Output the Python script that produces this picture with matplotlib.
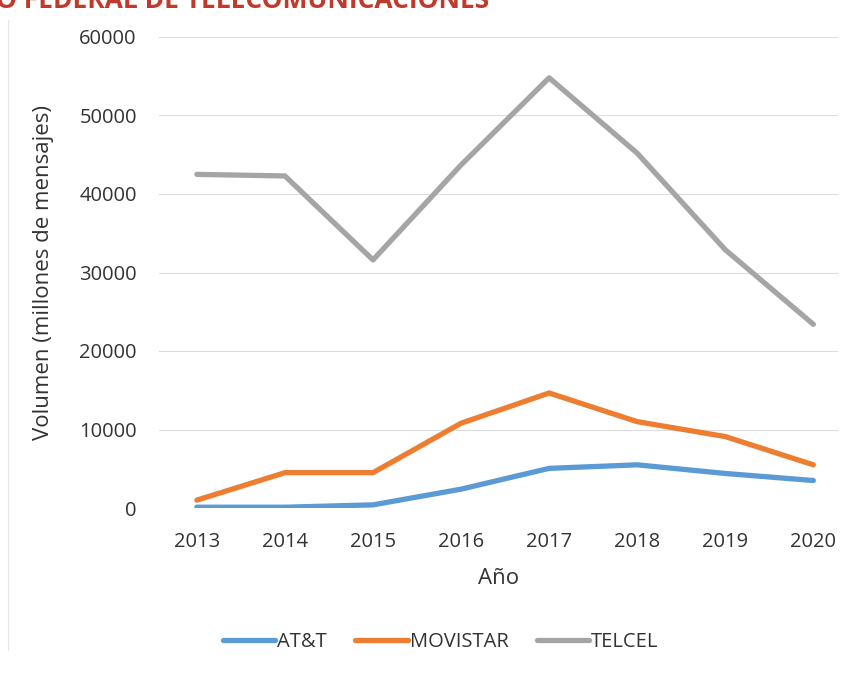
import matplotlib
matplotlib.use("Agg")
import matplotlib.pyplot as plt
from matplotlib.lines import Line2D

years = ["2013", "2014", "2015", "2016", "2017", "2018", "2019", "2020"]
att = [100, 100, 400, 2400, 5050, 5500, 4400, 3500]
movistar = [1000, 4500, 4500, 10800, 14650, 11000, 9100, 5500]
telcel = [42500, 42300, 31600, 43700, 54800, 45200, 32900, 23400]
yticks = [0, 10000, 20000, 30000, 40000, 50000, 60000]

plt.rcParams['font.family'] = ['Open Sans', 'DejaVu Sans']

fig = plt.figure(figsize=(8.54, 6.77), dpi=100)
ax = fig.add_axes([159/854, 1-508/677, (838-159)/854, (508-37)/677])

x = list(range(len(years)))
ax.plot(x, att, color='#5B9BD5', lw=3.8, label='AT&T', solid_capstyle='round', zorder=3)
ax.plot(x, movistar, color='#ED7D31', lw=3.8, label='MOVISTAR', solid_capstyle='round', zorder=3)
ax.plot(x, telcel, color='#A5A5A5', lw=3.8, label='TELCEL', solid_capstyle='round', zorder=3)

ax.set_xlim(-0.43, 7.28)
ax.set_ylim(0, 60000)
ax.set_yticks(yticks)
ax.set_yticklabels([str(v) for v in yticks], fontsize=14.5, color='#333333')
ax.set_xticks(x)
ax.set_xticklabels(years, fontsize=14.5, color='#333333')
ax.grid(axis='y', color='#DDDDDD', lw=0.8)
ax.set_axisbelow(True)
for s in ax.spines.values():
    s.set_visible(False)
ax.tick_params(axis='x', length=0, pad=17)
ax.tick_params(axis='y', length=0, pad=16)

ax.set_ylabel('Volumen (millones de mensajes)', fontsize=16, color='#333333', labelpad=18)
ax.set_xlabel('Año', fontsize=16, color='#333333', labelpad=12)

ax.legend(loc='upper center', bbox_to_anchor=(0.415, -0.225), ncol=3, frameon=False,
          fontsize=14.5, handlelength=2.6, handletextpad=0.1, columnspacing=1.4,
          labelcolor='#333333')

fig.text(-0.005, 1.0, 'O FEDERAL DE TELECOMUNICACIONES', color='#C0392B',
         fontsize=19, fontweight='bold', va='center', ha='left')
fig.add_artist(Line2D([8/854, 8/854], [1-20/677, 1-650/677], color='#E6E6E6', lw=0.8))

fig.savefig('out.png', dpi=100)
